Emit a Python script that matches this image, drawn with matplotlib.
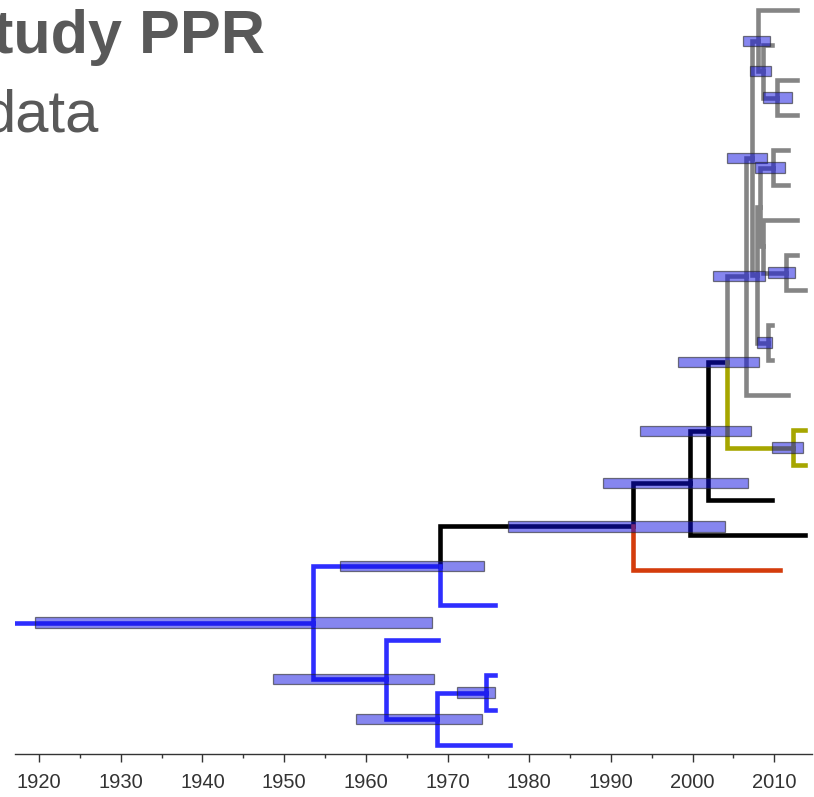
import matplotlib
matplotlib.use("Agg")
import matplotlib.pyplot as plt
import numpy as np

# Time-scaled tree (years), tips numbered bottom -> top
tip_names = ["t0", "t1", "t2", "t3", "t4", "t5", "t6", "t7", "t8", "t9", "t10",
             "t11", "t12", "t13", "t14", "t15", "t16", "t17", "t18", "t19", "t20", "t21"]
tip_years = [1977.65, 1975.81, 1975.81, 1968.80, 1975.81, 2010.70, 2013.76, 2009.76,
             2013.76, 2013.76, 2011.67, 2009.72, 2009.72, 2013.76, 2012.78, 2012.78,
             2011.67, 2011.67, 2012.78, 2012.78, 2009.72, 2012.78]
tip_colors = ["blue", "blue", "blue", "blue", "blue", "red", "black", "black",
              "yellow", "yellow", "gray", "gray", "gray", "gray", "gray", "gray",
              "gray", "gray", "gray", "gray", "gray", "gray"]

# internal nodes: children, age, 95% HPD (None = no bar), colour of branch above
node_names = ["R", "N1", "N2", "N4", "N5", "N3", "N6", "N7", "N8", "Ny", "G", "X",
              "Nc", "Nb", "Na", "W", "A", "Nd", "Q", "Ne", "Nf"]
node_children = [("N1", "N2"), ("N3", "t4"), ("t3", "N4"), ("N5", "t0"), ("t2", "t1"),
                 ("N6", "t5"), ("N7", "t6"), ("N8", "t7"), ("G", "Ny"), ("t9", "t8"),
                 ("X", "t10"), ("Nc", "W"), ("t21", "Nb"), ("t20", "Na"), ("t19", "t18"),
                 ("A", "Nf"), ("Nd", "Q"), ("t17", "t16"), ("t15", "Ne"), ("t14", "t13"),
                 ("t12", "t11")]
node_years = [1953.50, 1969.08, 1962.47, 1968.68, 1974.71, 1992.74, 1999.68, 2001.85,
              2004.17, 2012.33, 2006.54, 2007.27, 2008.00, 2008.62, 2010.33, 2007.90,
              2008.25, 2009.84, 2008.62, 2011.43, 2009.23]
hpd_low = [1919.51, 1956.84, 1948.64, 1958.80, 1971.16, 1977.41, 1989.07, 1993.56,
           1998.21, 2009.76, 2002.50, 2004.21, 2006.17, 2007.02, 2008.62, None,
           None, 2007.63, None, 2009.23, 2007.90]
hpd_high = [1968.07, 1974.47, 1968.35, 1974.22, 1975.81, 2003.97, 2006.82, 2007.11,
            2008.13, 2013.47, 2008.86, 2009.10, 2009.47, 2009.60, 2012.17, None,
            None, 2011.30, None, 2012.54, 2009.72]
node_colors = ["blue", "blue", "blue", "blue", "blue", "black", "black", "black",
               "black", "yellow", "gray", "gray", "gray", "gray", "gray", "gray",
               "gray", "gray", "gray", "gray", "gray"]
root_start = 1917.06

palette = {"blue": "#2e2eff", "black": "#000000", "red": "#d43c0c",
           "yellow": "#a6a600", "gray": "#858585"}

# positions
year = dict(zip(tip_names, tip_years))
color = dict(zip(tip_names, tip_colors))
year.update(zip(node_names, node_years))
color.update(zip(node_names, node_colors))
kids = dict(zip(node_names, node_children))
ypos = {n: i for i, n in enumerate(tip_names)}


def get_y(n):
    if n not in ypos:
        a, b = kids[n]
        ypos[n] = (get_y(a) + get_y(b)) / 2
    return ypos[n]


for n in node_names:
    get_y(n)

fig = plt.figure(figsize=(8.14, 7.97), dpi=100)
ax = fig.add_axes([15 / 814, 43 / 797, 797 / 814, 754 / 797])

lw = 3.3
# root branch
ax.plot([root_start, year["R"]], [ypos["R"], ypos["R"]], color=palette["blue"],
        lw=lw, solid_capstyle="projecting", zorder=2)
for n in node_names:
    for c in kids[n]:
        ax.plot([year[n], year[n], year[c]], [ypos[n], ypos[c], ypos[c]],
                color=palette[color[c]], lw=lw, solid_capstyle="projecting",
                solid_joinstyle="miter", zorder=2)

# HPD bars
for n, lo, hi in zip(node_names, hpd_low, hpd_high):
    if lo is None:
        continue
    ax.barh(ypos[n], hi - lo, left=lo, height=0.29,
            facecolor=(0.06, 0.06, 0.88, 0.5), edgecolor=(0.15, 0.15, 0.15, 0.6),
            linewidth=0.9, zorder=3)

ax.set_xlim(1917.06, 2014.61)
ax.set_ylim(-0.257, 21.286)
for s in ["top", "right", "left"]:
    ax.spines[s].set_visible(False)
ax.spines["bottom"].set_color("#333333")
ax.spines["bottom"].set_linewidth(1.0)
ax.set_yticks([])
ax.set_xticks(np.arange(1920, 2011, 10))
ax.set_xticks(np.arange(1925, 2015, 10), minor=True)
ax.tick_params(axis="x", which="major", length=6, width=1, color="#333333",
               labelsize=14.5, labelcolor="#333333", pad=8)
ax.tick_params(axis="x", which="minor", length=3, width=1, color="#333333")
for lab in ax.get_xticklabels():
    lab.set_family(["Liberation Sans", "DejaVu Sans"])

# slide title, clipped at the left edge
fig.text(265 / 814, 1 - 53 / 797, "study PPR", ha="right", va="baseline",
         fontsize=44, fontweight="bold", color="#595959",
         family=["Liberation Sans", "DejaVu Sans"])
fig.text(99 / 814, 1 - 132 / 797, "data", ha="right", va="baseline",
         fontsize=43, color="#595959", family=["Liberation Sans", "DejaVu Sans"])

plt.savefig("out.png", dpi=100)
